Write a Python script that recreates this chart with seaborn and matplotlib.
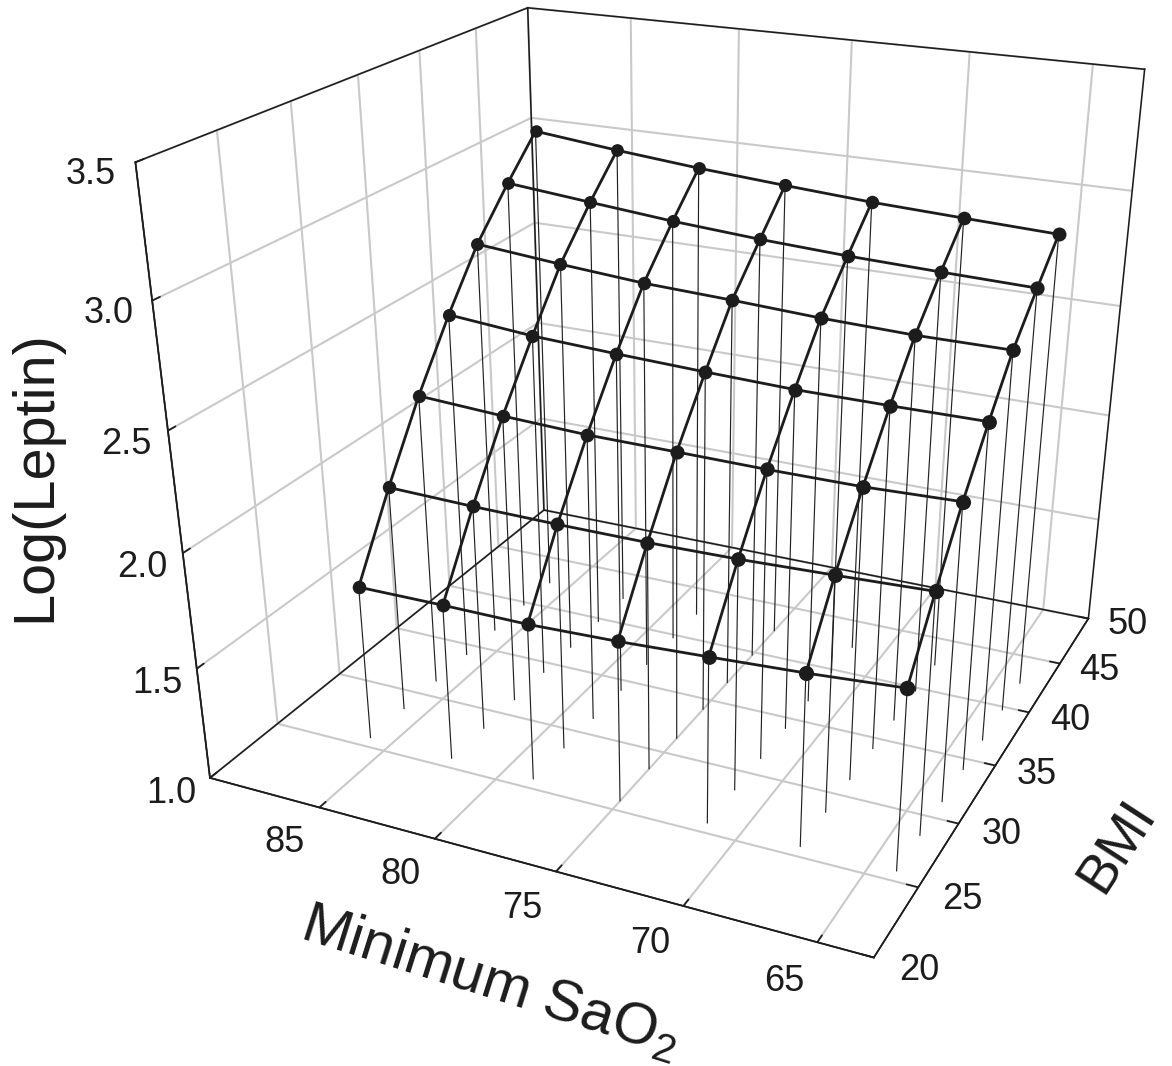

import numpy as np, pandas as pd, matplotlib
matplotlib.use('Agg')
import matplotlib.pyplot as plt
import seaborn as sns

sao2 = [86.0, 82.3, 78.7, 75.0, 71.4, 67.7, 64.0]
bmi = [42.4, 39.7, 36.8, 34.1, 31.3, 28.5, 25.7]
leptin_bmi_42 = [3.153, 3.115, 3.083, 3.057, 3.034, 3.018, 3.003]
leptin_bmi_40 = [2.994, 2.960, 2.928, 2.903, 2.885, 2.873, 2.863]
leptin_bmi_37 = [2.808, 2.775, 2.748, 2.733, 2.715, 2.704, 2.704]
leptin_bmi_34 = [2.583, 2.551, 2.534, 2.520, 2.509, 2.508, 2.510]
leptin_bmi_31 = [2.323, 2.302, 2.287, 2.284, 2.280, 2.281, 2.294]
leptin_bmi_29 = [2.025, 2.016, 2.012, 2.012, 2.019, 2.033, 2.049]
leptin_bmi_26 = [1.698, 1.701, 1.700, 1.713, 1.733, 1.755, 1.784]
x_ticks = [85, 80, 75, 70, 65]
y_ticks = [20, 25, 30, 35, 40, 45, 50]
z_ticks = [1.0, 1.5, 2.0, 2.5, 3.0, 3.5]
x_range = (89.9627, 62.9646)
y_range = (20, 50)
z_range = (1, 3.5)

sns.set_theme(style='white')
plt.rcParams['font.family'] = ['Liberation Sans', 'DejaVu Sans']
plt.rcParams['mathtext.default'] = 'regular'
INK = '#1c1c1c'
W, H = 1172, 1066
fig = plt.figure(figsize=(W/100, H/100), dpi=100)
ax = fig.add_axes([0, 0, 1, 1], projection='3d', computed_zorder=False)
ax.set_proj_type('persp', focal_length=0.3388)
ax.view_init(24.95, -65.11, -0.02)
ax.set_box_aspect((0.996, 0.999, 1))
ax.set_xlim(*x_range); ax.set_ylim(*y_range); ax.set_zlim(*z_range)
M = ax.get_proj()
sx, tx, sy, ty = 6403.70, 678.81, 5783.93, 422.43
a, b = ax._viewLim.intervalx
c, d = ax._viewLim.intervaly
ax.set_position([(tx+sx*a)/W, (H-(ty-sy*c))/H, sx*(b-a)/W, sy*(d-c)/H])
ax.apply_aspect = lambda position=None: ax._set_position(ax.get_position(original=True), 'active')
ax.patch.set_alpha(0)

table = np.array([leptin_bmi_42, leptin_bmi_40, leptin_bmi_37, leptin_bmi_34,
                  leptin_bmi_31, leptin_bmi_29, leptin_bmi_26])
df = pd.DataFrame(table, index=bmi, columns=sao2).rename_axis(index='BMI', columns='SaO2')
long = df.stack().rename('leptin').reset_index()

xa, xb = x_range; ya, yb = y_range; za, zb = z_range
frame = [((xa, ya, za), (xb, ya, za)), ((xb, ya, za), (xb, yb, za)), ((xb, yb, za), (xa, yb, za)),
         ((xa, yb, za), (xa, ya, za)), ((xa, ya, za), (xa, ya, zb)), ((xa, yb, za), (xa, yb, zb)),
         ((xb, yb, za), (xb, yb, zb)), ((xa, ya, zb), (xa, yb, zb)), ((xa, yb, zb), (xb, yb, zb))]
for p, q in frame:
    ax.plot(*zip(p, q), color=INK, lw=1.15, zorder=1.5, solid_capstyle='projecting')

for _, r in long.iterrows():
    ax.plot([r.SaO2, r.SaO2], [r.BMI, r.BMI], [1, r.leptin], color='#222222', lw=0.85, zorder=2)
for _, g in long.groupby('BMI'):
    ax.plot(g.SaO2, g.BMI, g.leptin, color=INK, lw=2.0, zorder=3)
for _, g in long.groupby('SaO2'):
    ax.plot(g.SaO2, g.BMI, g.leptin, color=INK, lw=2.0, zorder=3)
depth = np.array([(M @ np.array([r.SaO2, r.BMI, r.leptin, 1.0]))[3] for _, r in long.iterrows()])
sizes = 1.0 / depth
sizes = 9.0 + (sizes - sizes.min()) / (sizes.max() - sizes.min()) * 2.2
for (_, r), ms in zip(long.iterrows(), sizes):
    ax.plot([r.SaO2], [r.BMI], [r.leptin], ls='none', marker='o', ms=ms, mfc=INK, mec=INK, mew=0, zorder=4)

ax.set_xticks(x_ticks); ax.set_yticks(y_ticks); ax.set_zticks(z_ticks)
ax.set_xticklabels([str(v) for v in x_ticks])
ax.set_yticklabels([str(v) for v in y_ticks])
ax.set_zticklabels([f'{v:.1f}' for v in z_ticks])
for axis in (ax.xaxis, ax.yaxis, ax.zaxis):
    axis.set_pane_color((1, 1, 1, 1))
    axis.pane.set_edgecolor('white')
    axis.line.set_color(INK)
    axis.line.set_linewidth(1.15)
    axis._axinfo['grid'].update(color='#c9c9c9', linewidth=1.5)
    axis._axinfo['tick'].update(inward_factor=0.0, outward_factor=0.2)
ax.grid(True)
ax.zaxis.set_ticks_position('lower')
ax.tick_params(axis='both', labelsize=26, colors=INK, pad=8)
ax.tick_params(axis='z', labelsize=26, colors=INK, pad=8)

def nudge(label, dx, dy):
    place = label.set_position
    label.set_position = lambda xy: place((xy[0] + dx/sx, xy[1] + dy/sy))

for axis, (dx, dy) in ((ax.xaxis, (-21, 17)), (ax.yaxis, (18, 34)), (ax.zaxis, (0, 9))):
    for tick in axis.get_major_ticks():
        nudge(tick.label1, dx, dy)

fig.text(35/W, 1-476/H, 'Log(Leptin)', rotation=90, ha='center', va='center', fontsize=41.5, color=INK)
fig.text(1118/W, 1-846/H, 'BMI', rotation=57, ha='center', va='center', fontsize=40, color=INK)
fig.text(490/W, 1-982/H, 'Minimum SaO$_2$', rotation=-17.5, ha='center', va='center', fontsize=42, color=INK)
fig.savefig('out.png', dpi=100)
